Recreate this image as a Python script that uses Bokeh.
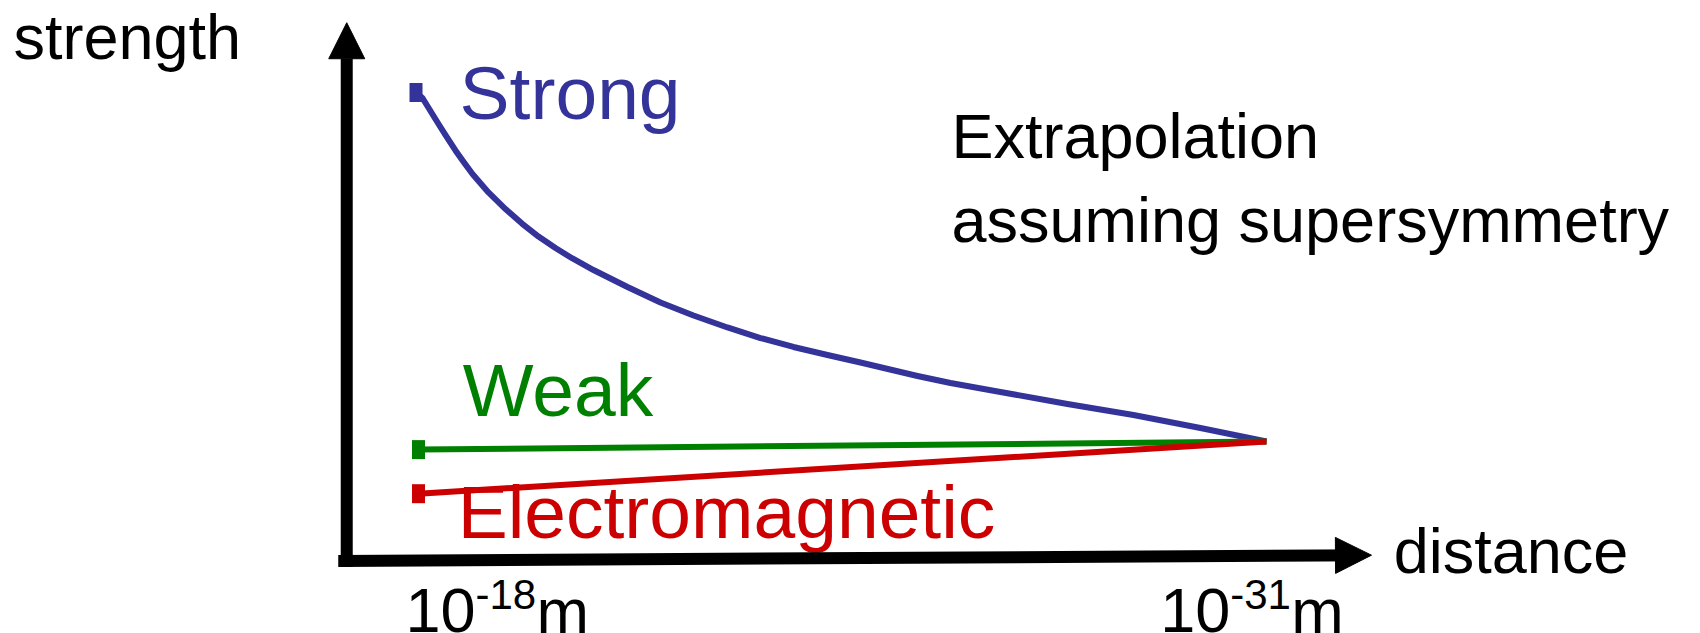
from bokeh.plotting import figure
from bokeh.models import Range1d, Arrow, NormalHead
from bokeh.core.properties import value
from bokeh.embed import file_html
from bokeh.resources import INLINE

# x = -log10(distance / m), y = relative coupling strength (unification point = 1)
strong_x = [17.962, 18.061, 18.184, 18.307, 18.437, 18.567, 18.698, 18.828, 19.073,
            19.334, 19.587, 19.840, 20.100, 20.361, 20.683, 21.204, 21.710, 22.216,
            22.737, 23.243, 23.749, 24.270, 24.776, 25.650, 26.156, 26.922, 27.949,
            28.961, 29.988, 31.000]
strong_y = [4.009, 3.961, 3.849, 3.737, 3.621, 3.509, 3.405, 3.306, 3.147,
            3.004, 2.879, 2.767, 2.668, 2.578, 2.478, 2.332, 2.198, 2.086,
            1.983, 1.892, 1.815, 1.746, 1.681, 1.565, 1.504, 1.427, 1.323,
            1.228, 1.116, 1.000]
weak_x = [18.0, 31.0]
weak_y = [0.93, 1.00]
em_x = [18.0, 31.0]
em_y = [0.55, 1.00]

series_names = ["Strong", "Weak", "Electromagnetic"]
series_colors = ["#333399", "#008000", "#CC0000"]
series_label_x = [18.63, 18.68, 18.60]
series_label_y = [3.77, 1.21, 0.16]

note_lines = ["Extrapolation", "assuming supersymmetry"]
note_x = [26.17, 26.17]
note_y = [3.45, 2.73]

axis_titles = ["strength", "distance"]
axis_title_x = [11.79, 32.95]
axis_title_y = [4.31, -0.125]

tick_x = [17.80, 29.37]
tick_base = ["10", "10"]
tick_exp = ["-18", "-31"]
tick_unit = ["m", "m"]
tick_y = [-0.638, -0.638]
tick_exp_y = [-0.44, -0.44]

FONT = value("Liberation Sans")
# baseline correction (screen px) for the text layout of the renderer
SHIFT_63 = -21
SHIFT_75 = -27
SHIFT_42 = -14

p = figure(width=1700, height=633, output_backend="svg", toolbar_location=None,
           x_range=Range1d(11.592, 37.654), y_range=Range1d(-0.6552, 4.8017),
           min_border=0, min_border_left=0, min_border_right=0,
           min_border_top=0, min_border_bottom=0)
p.axis.visible = False
p.grid.visible = False
p.outline_line_color = None
p.background_fill_color = "white"
p.border_fill_color = "white"

# axes drawn as arrows
p.add_layout(Arrow(end=NormalHead(size=36, fill_color="black", line_color="black"),
                   x_start=16.90, y_start=-0.08, x_end=16.90, y_end=4.61,
                   line_width=12, line_color="black"))
p.add_layout(Arrow(end=NormalHead(size=36, fill_color="black", line_color="black"),
                   x_start=16.77, y_start=-0.03, x_end=32.61, y_end=0.02,
                   line_width=12, line_color="black"))

# curves
for xs, ys, c in [(strong_x, strong_y, series_colors[0]),
                  (weak_x, weak_y, series_colors[1]),
                  (em_x, em_y, series_colors[2])]:
    p.line(xs, ys, line_color=c, line_width=6, line_join="round")

# start markers
p.rect(x=[strong_x[0], weak_x[0], em_x[0]], y=[strong_y[0], weak_y[0], em_y[0]],
       width=13, height=19, width_units="screen", height_units="screen",
       fill_color=series_colors, line_color=None)

# series labels
p.text(x=series_label_x, y=series_label_y, text=series_names,
       text_color=series_colors, text_font=FONT, text_font_size=value("75px"),
       text_align="left", text_baseline="alphabetic", y_offset=SHIFT_75)

# note and axis titles
p.text(x=note_x, y=note_y, text=note_lines, text_color="black", text_font=FONT,
       text_font_size=value("63px"), text_align="left", text_baseline="alphabetic",
       y_offset=SHIFT_63)
p.text(x=axis_title_x, y=axis_title_y, text=axis_titles, text_color="black",
       text_font=FONT, text_font_size=value("63px"), text_align="left",
       text_baseline="alphabetic", y_offset=SHIFT_63)

# tick labels 10^-18 m, 10^-31 m
p.text(x=tick_x, y=tick_y, text=tick_base, text_color="black", text_font=FONT,
       text_font_size=value("63px"), text_align="left", text_baseline="alphabetic",
       y_offset=SHIFT_63)
p.text(x=tick_x, y=tick_exp_y, text=tick_exp, text_color="black", text_font=FONT,
       text_font_size=value("42px"), text_align="left", text_baseline="alphabetic",
       x_offset=70, y_offset=SHIFT_42)
p.text(x=tick_x, y=tick_y, text=tick_unit, text_color="black", text_font=FONT,
       text_font_size=value("63px"), text_align="left", text_baseline="alphabetic",
       x_offset=131, y_offset=SHIFT_63)

open("out.html", "w").write(file_html(p, INLINE))
